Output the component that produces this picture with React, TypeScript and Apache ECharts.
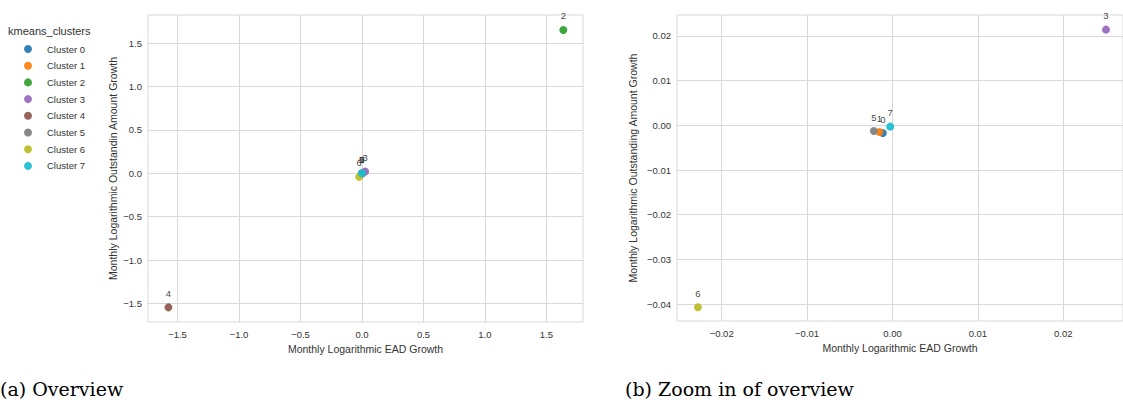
import React, { useEffect, useRef } from "react";
import * as echarts from "echarts";

// ---- data ----
const clusterNames = ["Cluster 0", "Cluster 1", "Cluster 2", "Cluster 3", "Cluster 4", "Cluster 5", "Cluster 6", "Cluster 7"];
const clusterIds = [0, 1, 2, 3, 4, 5, 6, 7];
const eadGrowth = [-0.00113, -0.00152, 1.637, 0.025, -1.574, -0.00218, -0.02278, -0.00027];
const outstandingGrowth = [-0.00172, -0.0015, 1.653, 0.0214, -1.546, -0.00128, -0.0407, -0.0003];
const colors = ["#1f77b4", "#ff7f0e", "#2ca02c", "#9467bd", "#8c564b", "#7f7f7f", "#bcbd22", "#17becf"];

const overviewXTicks = [-1.5, -1.0, -0.5, 0.0, 0.5, 1.0, 1.5];
const overviewYTicks = [-1.5, -1.0, -0.5, 0.0, 0.5, 1.0, 1.5];
const zoomXTicks = [-0.02, -0.01, 0.0, 0.01, 0.02];
const zoomYTicks = [-0.04, -0.03, -0.02, -0.01, 0.0, 0.01, 0.02];

const xTitle = "Monthly Logarithmic EAD Growth";
const yTitleOverview = "Monthly Logarithmic Outstandin Amount Growth";
const yTitleZoom = "Monthly Logarithmic Outstanding Amount Growth";
const legendTitle = "kmeans_clusters";
const captionA = "(a) Overview";
const captionB = "(b) Zoom in of overview";

const SANS = '"Liberation Sans", Arial, sans-serif';
const TEXT = "#333333";
const GRIDC = "#d9d9d9";

const fmt = (d: number) => (v: number) => {
  const s = Math.abs(v).toFixed(d);
  return v < 0 ? "\u2212" + s : s;
};

function makeXAxis(gridIndex: number, min: number, max: number, ticks: number[], dec: number, nameGap: number) {
  return {
    type: "value",
    gridIndex,
    min,
    max,
    name: xTitle,
    nameLocation: "middle",
    nameGap,
    nameTextStyle: { color: TEXT, fontSize: 10.5, fontFamily: SANS },
    axisLine: { show: false },
    axisTick: { show: false, customValues: ticks },
    axisLabel: { customValues: ticks, formatter: fmt(dec), color: TEXT, fontSize: 9.5, fontFamily: SANS, margin: 7 },
    splitLine: { show: true, lineStyle: { color: GRIDC, width: 1 } },
  };
}

function makeYAxis(gridIndex: number, min: number, max: number, ticks: number[], dec: number, name: string, nameGap: number) {
  return {
    type: "value",
    gridIndex,
    min,
    max,
    name,
    nameLocation: "middle",
    nameGap,
    nameTextStyle: { color: TEXT, fontSize: 10.5, fontFamily: SANS },
    axisLine: { show: false },
    axisTick: { show: false, customValues: ticks },
    axisLabel: { customValues: ticks, formatter: fmt(dec), color: TEXT, fontSize: 9.5, fontFamily: SANS, margin: 6 },
    splitLine: { show: true, lineStyle: { color: GRIDC, width: 1 } },
  };
}

function makeSeries(i: number, axisIndex: number) {
  return {
    type: "scatter",
    name: clusterNames[i],
    xAxisIndex: axisIndex,
    yAxisIndex: axisIndex,
    symbol: "circle",
    symbolSize: 8,
    clip: true,
    itemStyle: { color: colors[i], opacity: 0.92 },
    label: {
      show: true,
      position: "top",
      distance: 5,
      formatter: String(clusterIds[i]),
      color: TEXT,
      fontSize: 9.5,
      fontFamily: SANS,
    },
    data: [[eadGrowth[i], outstandingGrowth[i]]],
    z: 3,
  };
}

export default function App() {
  const ref = useRef<HTMLDivElement>(null);
  useEffect(() => {
    if (!ref.current) return;
    const chart = echarts.init(ref.current, undefined, { renderer: "svg" });
    const series: any[] = [];
    clusterIds.forEach((_, i) => series.push(makeSeries(i, 0)));
    clusterIds.forEach((_, i) => series.push(makeSeries(i, 1)));
    chart.setOption({
      animation: false,
      backgroundColor: "#ffffff",
      grid: [
        { left: 148, top: 15, width: 435, height: 307, show: true, borderColor: GRIDC, borderWidth: 1, backgroundColor: "#fff" },
        { left: 677, top: 15, width: 447, height: 306, show: true, borderColor: GRIDC, borderWidth: 1, backgroundColor: "#fff" },
      ],
      xAxis: [
        makeXAxis(0, -1.74, 1.797, overviewXTicks, 1, 21),
        makeXAxis(1, -0.02523, 0.02699, zoomXTicks, 2, 21),
      ],
      yAxis: [
        makeYAxis(0, -1.715, 1.826, overviewYTicks, 1, yTitleOverview, 30),
        makeYAxis(1, -0.04378, 0.02468, zoomYTicks, 2, yTitleZoom, 39),
      ],
      title: {
        text: legendTitle,
        left: 8,
        top: 25,
        padding: 0,
        textStyle: { color: TEXT, fontSize: 11, fontFamily: SANS, fontWeight: "normal" },
      },
      legend: {
        orient: "vertical",
        left: 24,
        top: 44,
        padding: 0,
        itemWidth: 28,
        itemHeight: 8,
        itemGap: 6.7,
        icon: "circle",
        data: clusterNames,
        textStyle: { color: TEXT, fontSize: 9.5, fontFamily: SANS, lineHeight: 10 },
        selectedMode: false,
      },
      graphic: [
        {
          type: "text",
          x: 0,
          y: 389,
          style: { text: captionA, fontFamily: '"DejaVu Serif", serif', fontSize: 19, fill: "#000", verticalAlign: "middle" },
        },
        {
          type: "text",
          x: 625,
          y: 389,
          style: { text: captionB, fontFamily: '"DejaVu Serif", serif', fontSize: 19, fill: "#000", verticalAlign: "middle" },
        },
      ],
      series,
    });
    return () => chart.dispose();
  }, []);
  return (
    <div
      ref={ref}
      style={{ position: "fixed", left: 0, top: 0, width: 1123, height: 402, background: "#fff" }}
    />
  );
}
